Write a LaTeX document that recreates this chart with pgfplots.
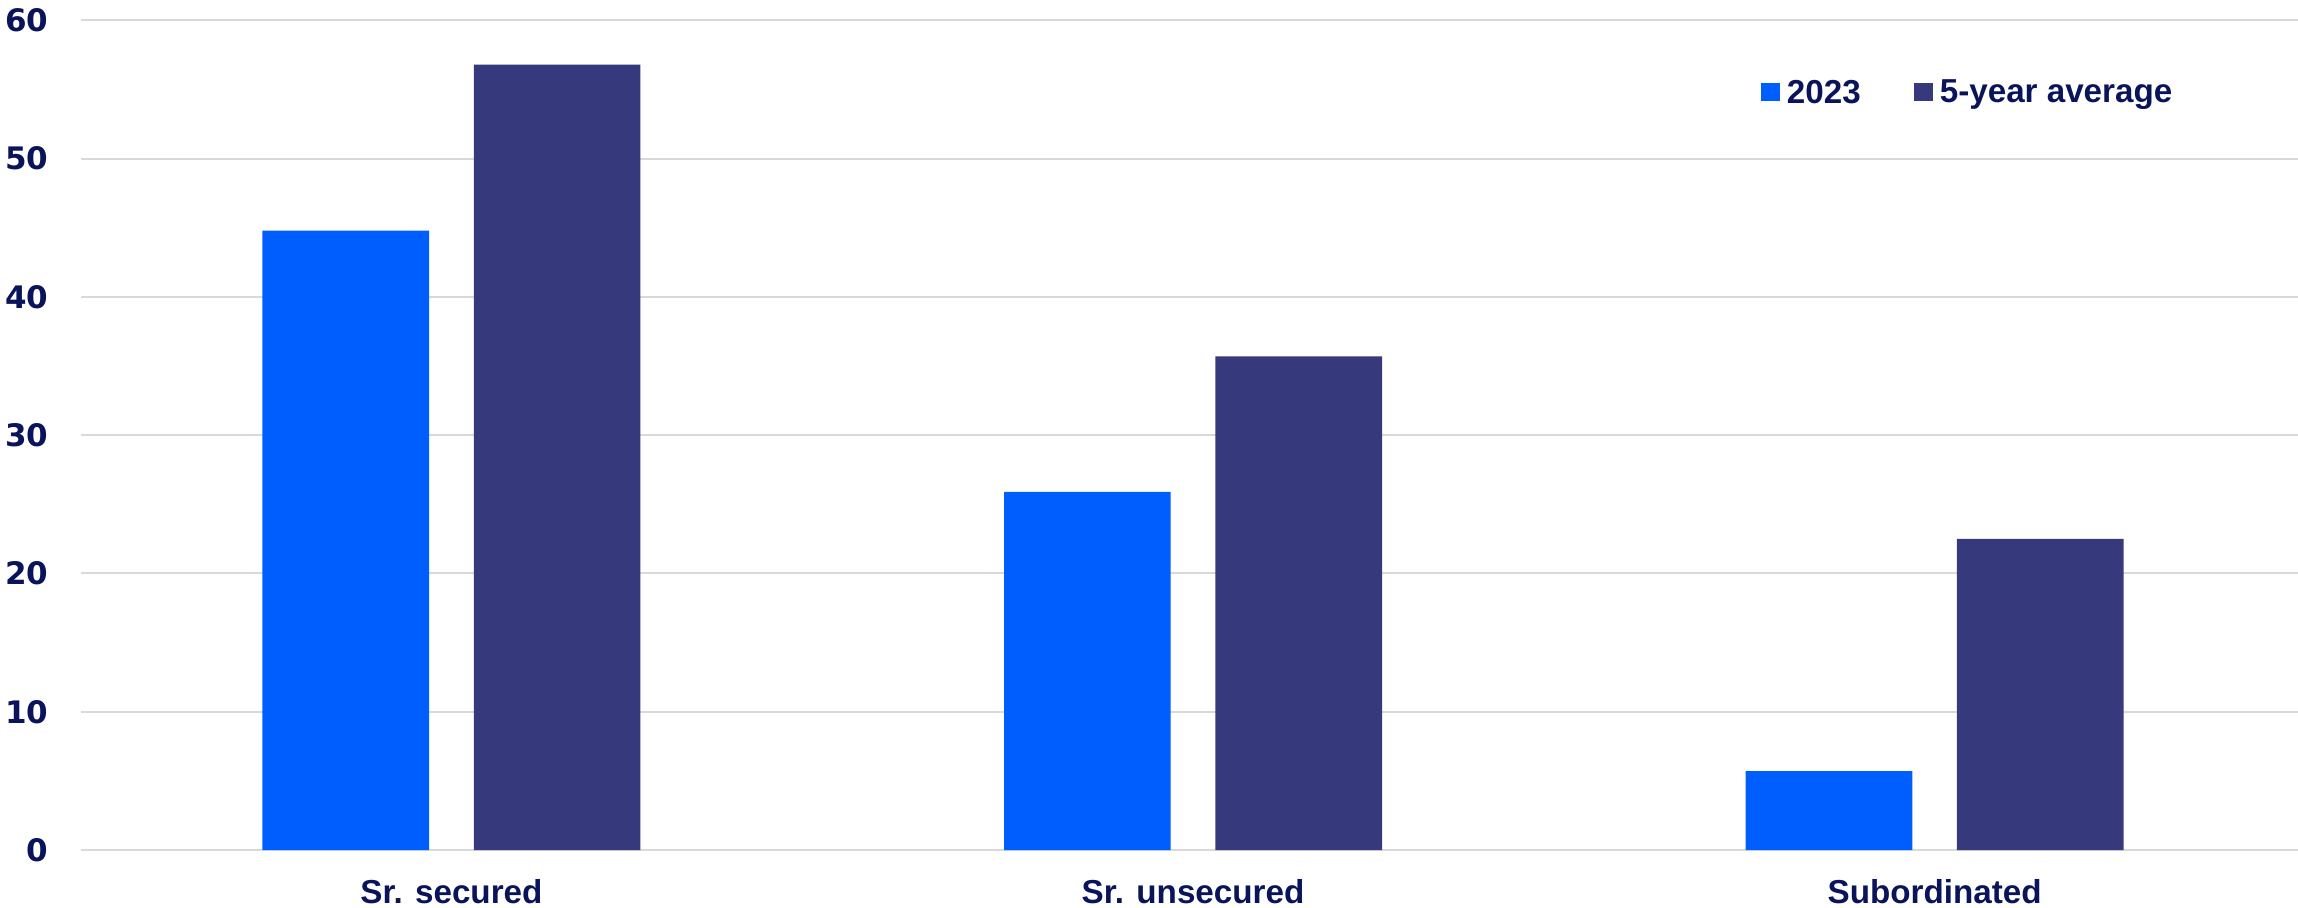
\documentclass[border=0pt]{standalone}
\usepackage{fontspec}
\setmainfont{Liberation Sans}
\newfontfamily\tickfont{DejaVu Sans}
\usepackage{pgfplots}
\pgfplotsset{compat=1.18}

\definecolor{ink}{RGB}{10,20,90}
\definecolor{blueA}{RGB}{0,94,255}
\definecolor{navyB}{RGB}{54,58,124}
\definecolor{gridgray}{RGB}{217,217,217}

\begin{document}
\begin{tikzpicture}
\useasboundingbox (-40.3pt,-28.5pt) rectangle (1108.7pt,425pt);
\begin{axis}[
  at={(0,0)}, anchor=south west,
  scale only axis, width=1108.7pt, height=414.8pt,
  xmin=-0.5, xmax=2.49, ymin=0, ymax=60,
  ytick={0,10,...,60},
  xtick={0,1,2},
  xticklabels={Sr. secured, Sr. unsecured, Subordinated},
  axis line style={draw=none},
  major tick length=0pt,
  ymajorgrids,
  grid style={gridgray, line width=1pt},
  ybar, bar width=0.2247,
  /pgf/number format/assume math mode=true,
  yticklabel style={font=\tickfont\bfseries\fontsize{15.5}{18}\selectfont,
    text=ink, inner sep=0pt, anchor=east, xshift=-16pt},
  xticklabel style={font=\bfseries\fontsize{16.6}{19}\selectfont,
    text=ink, inner sep=0pt, anchor=north, yshift=-14.5pt},
  legend style={draw=none, fill=none, inner sep=0pt, outer sep=0pt,
    at={(0.7578,0.9125)}, anchor=west,
    font=\bfseries\fontsize{16.6}{19}\selectfont, text=ink,
    nodes={inner sep=0pt},
    /tikz/every odd column/.append style={column sep=3.5pt},
    /tikz/every even column/.append style={column sep=26.5pt}},
  legend columns=2,
  legend cell align=left,
  legend image code/.code={\fill[#1] (0pt,-3.8pt) rectangle (9.5pt,5.2pt);},
]
\addplot[fill=blueA, draw=none, bar shift=-0.1425]
  coordinates {(0,44.8) (1,25.9) (2,5.7)};
\addlegendentry{2023}
\addplot[fill=navyB, draw=none, bar shift=0.1425]
  coordinates {(0,56.8) (1,35.7) (2,22.5)};
\addlegendentry{5-year average}
\end{axis}
\end{tikzpicture}
\end{document}
